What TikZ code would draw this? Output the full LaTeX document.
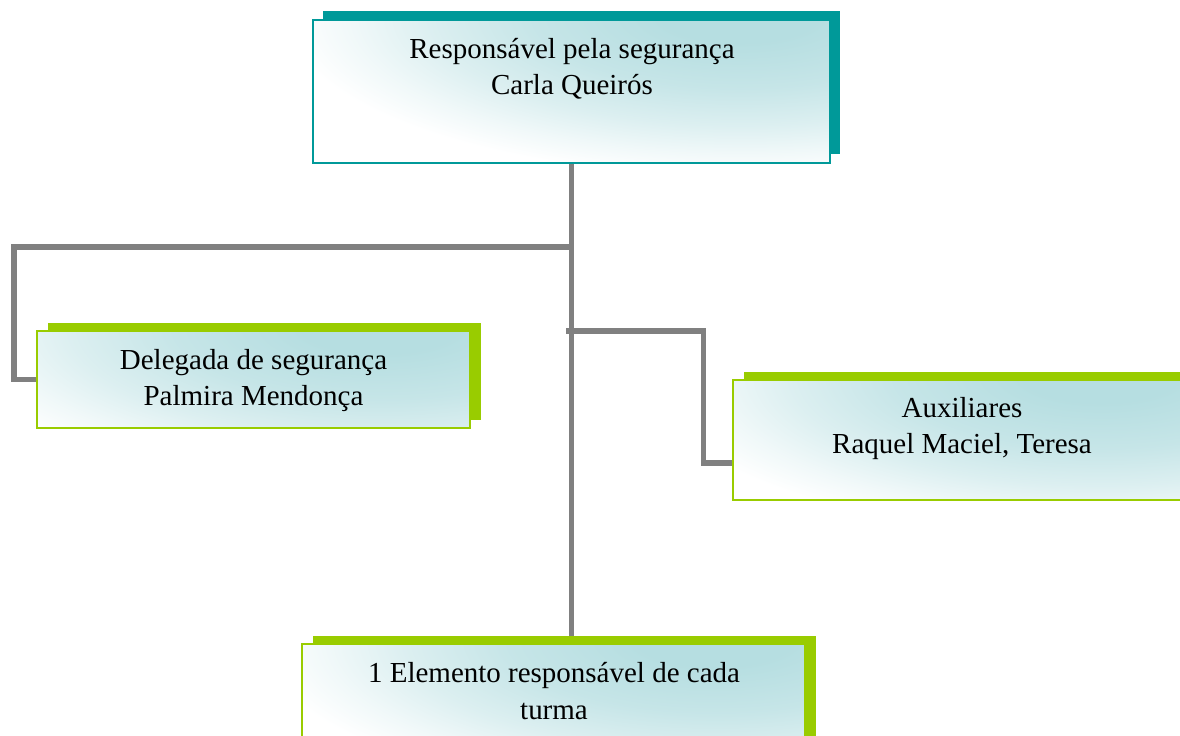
\documentclass[tikz,border=0pt]{standalone}
\usepackage{fontspec}
\setmainfont{Liberation Serif}
\usetikzlibrary{shadows,backgrounds}
\definecolor{cTeal}{RGB}{0,153,153}
\definecolor{cGreen}{RGB}{153,204,0}
\definecolor{cFill}{RGB}{182,222,225}
\definecolor{cLine}{RGB}{128,128,128}
\pgfdeclareradialshading{boxglow}{\pgfpoint{0bp}{0bp}}{color(0bp)=(cFill); color(3bp)=(cFill); color(8bp)=(cFill!78); color(12bp)=(cFill!48); color(15bp)=(cFill!20); color(17.5bp)=(white); color(50bp)=(white)}
\begin{document}
\begin{tikzpicture}[x=0.02cm, y=-0.02cm,
    box/.style={rectangle, inner sep=0pt, outer sep=0pt, line width=1.1pt, fill=white,
        path picture={\shade[shading=boxglow]
            ([xshift=-1.8cm,yshift=0.1cm]path picture bounding box.north east) ellipse (13cm and 4.6cm);}},
    topbox/.style={box, draw=cTeal, general shadow={fill=cTeal, shadow xshift=0.2cm, shadow yshift=0.18cm}},
    subbox/.style={box, draw=cGreen, general shadow={fill=cGreen, shadow xshift=0.22cm, shadow yshift=0.16cm}},
    txt/.style={align=center, anchor=base, inner sep=0pt, font=\fontsize{16.5}{20.5}\selectfont},
    conn/.style={draw=cLine, line width=2.9pt}]
    \useasboundingbox (0,0) rectangle (1180,736);
    % boxes
    \node[topbox, minimum width=10.34cm, minimum height=2.86cm] (Resp) at (571.5,91.5) {};
    \node[subbox, minimum width=8.66cm, minimum height=1.94cm] (Deleg) at (253.5,379.5) {};
    \node[subbox, minimum width=9.16cm, minimum height=2.4cm] (Aux) at (962,440) {};
    \node[subbox, minimum width=10.06cm, minimum height=2.4cm] (Elem) at (553.5,704) {};
    % texts (base = last line)
    \node[txt] (RespT) at (572,95) {Responsável pela segurança\\Carla Queirós};
    \node[txt] (DelegT) at (253.5,406) {Delegada de segurança\\Palmira Mendonça};
    \node[txt] (AuxT) at (962,454) {Auxiliares\\Raquel Maciel, Teresa};
    \node[txt] (ElemT) at (554,719) {1 Elemento responsável de cada\\turma};
    % connectors
    \coordinate (Rb) at (566,331);
    \begin{scope}[on background layer]
        \draw[conn] (Resp.south) -- (Resp.south |- Elem.north);
        \draw[conn] (Resp.south) -- (571.5,247) -| ([xshift=-0.46cm]Deleg.west) -- (Deleg.west);
        \draw[conn] (Rb) -| ([xshift=-0.6cm,yshift=-0.46cm]Aux.west) -- ([yshift=-0.46cm]Aux.west);
    \end{scope}
\end{tikzpicture}
\end{document}
